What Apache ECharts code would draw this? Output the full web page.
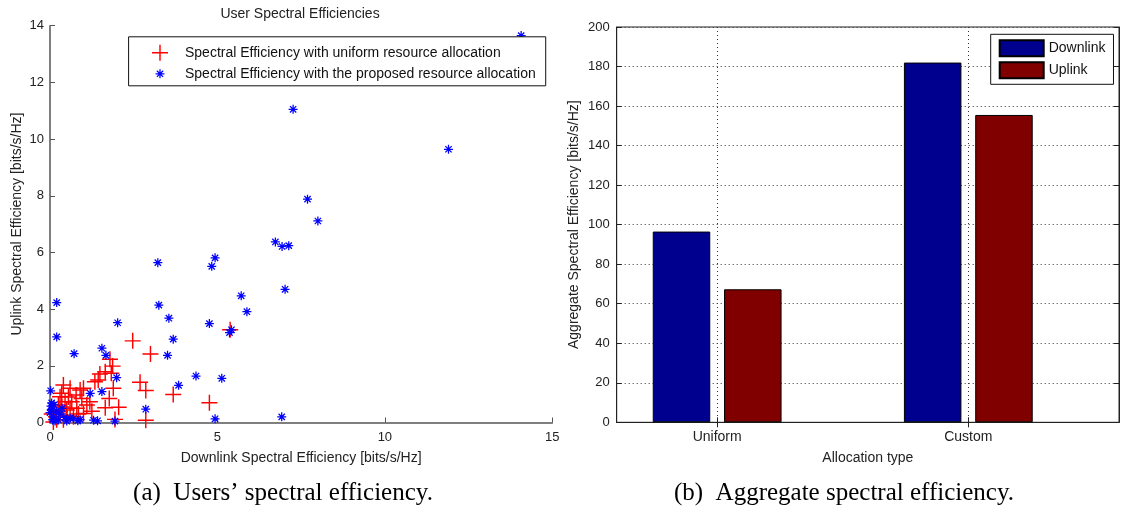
<!DOCTYPE html>
<html><head><meta charset="utf-8">
<script src="https://cdn.jsdelivr.net/npm/echarts@6/dist/echarts.min.js"></script>
<style>html,body{margin:0;padding:0;background:#fff}#c{width:1121px;height:512px}</style>
</head><body><div id="c"></div>
<script>
// ---- data ----
const uniformName = 'Spectral Efficiency with uniform resource allocation';
const proposedName = 'Spectral Efficiency with the proposed resource allocation';
// [downlink, uplink] per user, uniform allocation (red +)
const uniformPoints = [
  [5.38,3.27],[2.47,2.88],[3.0,2.42],[4.76,0.7],[3.68,0.99],[2.69,1.42],[2.86,1.13],[2.86,0.08],
  [1.79,2.23],[1.87,1.99],[1.65,1.79],[1.83,1.74],[1.49,1.71],[1.34,1.44],[1.44,1.5],[1.77,0.85],
  [1.65,0.52],[2.05,0.54],[1.89,1.21],[1.0,1.21],[0.95,0.85],[0.78,0.97],[0.6,1.21],[0.4,1.32],
  [0.3,0.91],[0.65,0.73],[0.8,0.5],[1.1,0.62],[0.5,0.44],[0.3,0.38],[0.18,0.2],[0.7,0.2],
  [1.0,0.32],[1.94,0.11],[0.1,0.02],[0.25,0.62],[0.45,0.73],[0.35,1.03],[1.19,0.73],[0.9,1.15],
  [0.55,0.9],[0.2,0.1],[0.4,0.1],[0.6,0.5],[0.35,0.55],[0.15,0.45],[0.85,0.3],[1.25,0.4],
  [0.5,0.25],[0.05,0.3]
];
// [downlink, uplink] per user, proposed allocation (blue *)
const proposedPoints = [
  [14.07,13.65],[11.9,9.64],[7.26,11.05],[7.69,7.88],[8.0,7.11],[6.73,6.37],[6.93,6.21],[7.13,6.24],
  [4.93,5.81],[4.83,5.51],[3.22,5.64],[7.02,4.70],[5.71,4.47],[5.88,3.91],[4.76,3.49],[5.36,3.17],
  [5.42,3.27],[3.25,4.14],[3.55,3.68],[3.68,2.94],[3.51,2.37],[3.84,1.31],[4.36,1.64],[5.13,1.56],
  [6.92,0.2],[4.93,0.13],[2.86,0.47],[1.94,0.05],[2.02,3.52],[1.55,2.62],[1.67,2.37],[1.99,1.58],
  [1.55,1.09],[1.2,1.03],[0.2,4.23],[0.2,3.02],[0.72,2.43],[0.02,1.12],[0.36,0.5],[1.3,0.08],
  [1.42,0.06],[0.83,0.06],[0.6,0.15],[0.05,0.69],[0.05,0.45],[0.1,0.2],[0.25,0.09],[0.45,0.18],
  [0.7,0.15],[0.0,0.35],[0.03,0.58],[0.15,0.05],[0.3,0.3],[0.08,0.1],[0.5,0.05],[0.2,0.4],
  [0.12,0.62],[0.9,0.1]
];
const barCategories = ['Uniform', 'Custom'];
const downlinkValues = [96.5, 182.0];
const uplinkValues = [67.3, 155.5];
const barSeriesNames = ['Downlink', 'Uplink'];
const captionA = '(a)  Users\u2019 spectral efficiency.';
const captionB = '(b)  Aggregate spectral efficiency.';

// ---- styling ----
const SANS = 'Liberation Sans';
const plusPath = 'path://M0,4.55H10V5.45H0Z M4.55,0H5.45V10H4.55Z';
const starPath = 'path://M0,4.3H10V5.7H0Z M4.3,0H5.7V10H4.3Z M2.0,1.0L9.0,8.0L8.0,9.0L1.0,2.0Z M8.0,1.0L9.0,2.0L2.0,9.0L1.0,8.0Z';
const starLegendPath = 'path://M-4,-4 M14,14 M0,4.3H10V5.7H0Z M4.3,0H5.7V10H4.3Z M2.0,1.0L9.0,8.0L8.0,9.0L1.0,2.0Z M8.0,1.0L9.0,2.0L2.0,9.0L1.0,8.0Z';

const chart = echarts.init(document.getElementById('c'), null, {renderer: 'canvas'});
const tickLbl = {color: '#222', fontSize: 13, fontFamily: SANS};
const nameTxt = {color: '#222', fontSize: 14, fontFamily: SANS};
const grayAxis = {lineStyle: {color: '#555', width: 1.5}};
const blackAxis = {lineStyle: {color: '#222', width: 1}};
const dotted = {show: true, lineStyle: {color: '#333', width: 1, type: [1, 3]}};

chart.setOption({
  animation: false,
  backgroundColor: '#fff',
  grid: [
    {left: 50, right: 568.7, top: 25.7, bottom: 89.5, containLabel: false},
    {left: 616.7, right: 2, top: 27, bottom: 89.7, containLabel: false, show: true, borderColor: '#222', borderWidth: 1}
  ],
  xAxis: [
    {gridIndex: 0, type: 'value', min: 0, max: 15, interval: 5,
     name: 'Downlink Spectral Efficiency [bits/s/Hz]', nameLocation: 'middle', nameGap: 29, nameTextStyle: nameTxt,
     axisLine: grayAxis, axisTick: {inside: true, length: 5, lineStyle: {color: '#555'}},
     axisLabel: Object.assign({margin: 8}, tickLbl), splitLine: {show: false}},
    {gridIndex: 1, type: 'value', min: 0.6, max: 2.6,
     name: 'Allocation type', nameLocation: 'middle', nameGap: 29, nameTextStyle: nameTxt,
     axisLine: blackAxis,
     axisTick: {inside: true, length: 5, customValues: [1, 2], lineStyle: {color: '#222'}},
     axisLabel: Object.assign({margin: 8, customValues: [1, 2], formatter: v => barCategories[Math.round(v) - 1] || ''}, tickLbl, {fontSize: 14}),
     splitLine: dotted},
    {gridIndex: 1, type: 'value', min: 0.6, max: 2.6, position: 'top',
     axisLine: blackAxis,
     axisTick: {inside: true, length: 5, customValues: [1, 2], lineStyle: {color: '#222'}},
     axisLabel: {show: false}, splitLine: {show: false}}
  ],
  yAxis: [
    {gridIndex: 0, type: 'value', min: 0, max: 14, interval: 2,
     name: 'Uplink Spectral Efficiency [bits/s/Hz]', nameLocation: 'middle', nameGap: 26, nameTextStyle: nameTxt,
     axisLine: grayAxis, axisTick: {inside: true, length: 5, lineStyle: {color: '#555'}},
     axisLabel: Object.assign({margin: 6}, tickLbl), splitLine: {show: false}},
    {gridIndex: 1, type: 'value', min: 0, max: 200, interval: 20,
     name: 'Aggregate Spectral Efficiency [bits/s/Hz]', nameLocation: 'middle', nameGap: 36, nameTextStyle: nameTxt,
     axisLine: blackAxis, axisTick: {inside: true, length: 5, lineStyle: {color: '#222'}},
     axisLabel: Object.assign({margin: 7}, tickLbl), splitLine: dotted},
    {gridIndex: 1, type: 'value', min: 0, max: 200, interval: 20, position: 'right',
     axisLine: blackAxis, axisTick: {inside: true, length: 5, lineStyle: {color: '#222'}},
     axisLabel: {show: false}, splitLine: {show: false}}
  ],
  legend: [
    {data: [{name: uniformName, icon: plusPath}, {name: proposedName, icon: starLegendPath}],
     orient: 'vertical', left: 128.6, top: 36.8,
     padding: [8, 10, 4, 23.4], itemWidth: 40, itemHeight: 16, itemGap: 5,
     backgroundColor: '#fff', borderColor: '#111', borderWidth: 1, borderRadius: 0,
     symbolKeepAspect: true, textStyle: {color: '#111', fontSize: 14, fontFamily: SANS}},
    {data: barSeriesNames.map(n => ({name: n, icon: 'rect'})), orient: 'vertical', left: 990.7, top: 34.3,
     padding: [5, 8, 5, 8], itemWidth: 44, itemHeight: 16, itemGap: 4,
     backgroundColor: '#fff', borderColor: '#111', borderWidth: 1, borderRadius: 0,
     textStyle: {color: '#111', fontSize: 14, fontFamily: SANS}}
  ],
  graphic: [
    {type: 'text', x: 300, y: 14, style: {text: 'User Spectral Efficiencies', fill: '#222', font: '14px "Liberation Sans"', textAlign: 'center', textVerticalAlign: 'middle'}},
    {type: 'text', x: 283, y: 493, style: {text: captionA, fill: '#000', font: '25px "Liberation Serif"', textAlign: 'center', textVerticalAlign: 'middle'}},
    {type: 'text', x: 844, y: 493, style: {text: captionB, fill: '#000', font: '25px "Liberation Serif"', textAlign: 'center', textVerticalAlign: 'middle'}}
  ],
  series: [
    {name: uniformName, type: 'scatter', xAxisIndex: 0, yAxisIndex: 0, data: uniformPoints,
     symbol: plusPath, symbolSize: 16, itemStyle: {color: '#ff0000', opacity: 1}, clip: false, z: 2},
    {name: proposedName, type: 'scatter', xAxisIndex: 0, yAxisIndex: 0, data: proposedPoints,
     symbol: starPath, symbolSize: 9, itemStyle: {color: '#0000ff', opacity: 1}, clip: false, z: 3},
    {name: barSeriesNames[0], type: 'bar', xAxisIndex: 1, yAxisIndex: 1,
     data: barCategories.map((c, i) => [i + 1, downlinkValues[i]]),
     barWidth: 57.5, barGap: '24%', itemStyle: {color: '#00008f', borderColor: '#000', borderWidth: 1}},
    {name: barSeriesNames[1], type: 'bar', xAxisIndex: 1, yAxisIndex: 1,
     data: barCategories.map((c, i) => [i + 1, uplinkValues[i]]),
     barWidth: 57.5, barGap: '24%', itemStyle: {color: '#800000', borderColor: '#000', borderWidth: 1}}
  ]
});
</script>
</body></html>
